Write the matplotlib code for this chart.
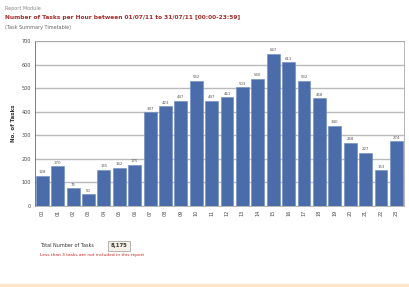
import matplotlib
matplotlib.use("Agg")
import matplotlib.pyplot as plt
import matplotlib.patches as mpatches

# Tasks per hour of day
hours = ["%02d" % h for h in range(24)]
tasks = [128, 170, 75, 50, 155, 162, 175, 397, 423, 447, 532, 447,
         461, 503, 540, 647, 611, 532, 458, 340, 268, 227, 153, 274]
y_ticks = [0, 100, 200, 300, 400, 500, 600, 700]

fig = plt.figure(figsize=(4.09, 2.87), dpi=100)
fig.patch.set_facecolor("white")

ax = fig.add_axes([0.086, 0.282, 0.902, 0.575])
ax.bar(range(len(tasks)), tasks, width=0.84, color="#4b6caa",
       edgecolor="#7592c4", linewidth=0.5, zorder=3)
for i, v in enumerate(tasks):
    ax.text(i, v + 6, str(v), ha="center", va="bottom", fontsize=2.8,
            color="#555555", zorder=4)

ax.set_xlim(-0.46, 23.5)
ax.set_ylim(0, 700)
ax.set_yticks(y_ticks)
ax.set_yticklabels([str(t) for t in y_ticks], fontsize=3.5, color="#444444")
ax.set_xticks(range(len(hours)))
ax.set_xticklabels(hours, rotation=90, fontsize=3.5, color="#444444")
ax.tick_params(length=0, pad=3)
ax.grid(axis="y", color="#bbbbbb", linewidth=1.0, zorder=0)
for s in ax.spines.values():
    s.set_color("#aaaaaa")
    s.set_linewidth(0.6)
ax.spines["left"].set_color("#666666")
ax.set_ylabel("No. of Tasks", fontsize=4, fontweight="bold", color="#333333",
              labelpad=4)

fig.text(0.012, 0.972, "Report Module", fontsize=3.5, color="#888888",
         va="center")
fig.text(0.012, 0.94, "Number of Tasks per Hour between 01/07/11 to 31/07/11 [00:00-23:59]",
         fontsize=4.2, fontweight="bold", color="#a52a2a", va="center")
fig.text(0.012, 0.905, "(Task Summary Timetable)", fontsize=3.5,
         color="#666666", va="center")

fig.text(0.098, 0.143, "Total Number of Tasks", fontsize=3.5,
         color="#333333", va="center")
fig.text(0.292, 0.143, "{:,}".format(sum(tasks)), fontsize=3.8,
         fontweight="bold", color="#333333", va="center", ha="center",
         bbox=dict(boxstyle="square,pad=0.5", fc="#f5f0e6", ec="#999999",
                   lw=0.5))
fig.text(0.098, 0.112, "Less than 3 tasks are not included in this report",
         fontsize=3.2, color="#cc2222", va="center")

fig.patches.append(mpatches.Rectangle((0, 0.0), 1, 0.012,
                                      transform=fig.transFigure,
                                      color="#fbe6cc", zorder=0))

plt.savefig("out.png", dpi=100)
